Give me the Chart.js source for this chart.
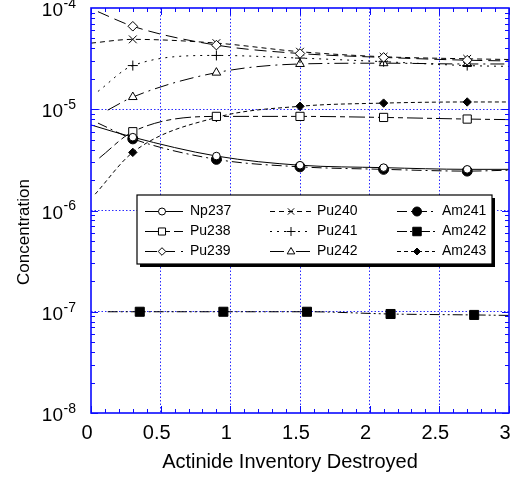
<!DOCTYPE html>
<html><head><meta charset="utf-8">
<script src="https://cdn.jsdelivr.net/npm/chart.js@4"></script>
<style>html,body{margin:0;padding:0;background:#fff}#wrap{width:513px;height:477px}</style>
</head><body><div id="wrap"><canvas id="c" width="513" height="477"></canvas></div>
<script>
// ---------- data ----------
const xTickValues = [0, 0.5, 1, 1.5, 2, 2.5, 3];
const xTickLabels = ['0', '0.5', '1', '1.5', '2', '2.5', '3'];
const yTickValues = [1e-8, 1e-7, 1e-6, 1e-5, 1e-4];
const yTickExponents = ['-8', '-7', '-6', '-5', '-4'];
const xTitle = 'Actinide Inventory Destroyed';
const yTitle = 'Concentration';

const seriesNames = ['Np237', 'Pu238', 'Pu239', 'Pu240', 'Pu241', 'Pu242', 'Am241', 'Am242', 'Am243'];

const np237X = [0, 0.3, 0.9, 1.5, 2.1, 2.7, 3];
const np237Y = [7.0e-6, 5.3e-6, 3.45e-6, 2.8e-6, 2.65e-6, 2.55e-6, 2.55e-6];
const pu238X = [0.06, 0.3, 0.9, 1.5, 2.1, 2.7, 3];
const pu238Y = [3.3e-6, 6.0e-6, 8.5e-6, 8.5e-6, 8.3e-6, 8.0e-6, 7.9e-6];
const pu239X = [0.05, 0.3, 0.9, 1.5, 2.1, 2.7, 3];
const pu239Y = [9.2e-5, 6.6e-5, 4.3e-5, 3.55e-5, 3.25e-5, 3.05e-5, 3.0e-5];
const pu240X = [0, 0.3, 0.9, 1.5, 2.1, 2.7, 3];
const pu240Y = [4.5e-5, 4.9e-5, 4.5e-5, 3.7e-5, 3.3e-5, 3.15e-5, 3.1e-5];
const pu241X = [0.05, 0.3, 0.9, 1.5, 2.1, 2.7, 3];
const pu241Y = [1.5e-5, 2.7e-5, 3.4e-5, 3.2e-5, 2.95e-5, 2.7e-5, 2.65e-5];
const pu242X = [0.12, 0.3, 0.9, 1.5, 2.1, 2.7, 3];
const pu242Y = [9.8e-6, 1.32e-5, 2.3e-5, 2.8e-5, 2.85e-5, 2.8e-5, 2.8e-5];
const am241X = [0.05, 0.3, 0.9, 1.5, 2.1, 2.7, 3];
const am241Y = [7.3e-6, 5.1e-6, 3.2e-6, 2.7e-6, 2.55e-6, 2.45e-6, 2.5e-6];
const am242X = [0.12, 0.35, 0.95, 1.55, 2.15, 2.75, 3];
const am242Y = [1.0e-7, 1.0e-7, 1.0e-7, 1.0e-7, 9.5e-8, 9.3e-8, 9.2e-8];
const am243X = [0.03, 0.3, 0.9, 1.5, 2.1, 2.7, 3];
const am243Y = [1.45e-6, 3.75e-6, 8.3e-6, 1.07e-5, 1.15e-5, 1.18e-5, 1.18e-5];

// ---------- styles ----------
const FONT = "'Liberation Sans', Arial, Helvetica, sans-serif";
const AXIS_BLUE = '#0a0aff';
const styles = {
  Np237: {dash: [], ps: 'circle', r: 3.8, fill: '#fff', lr: 3.5},
  Pu238: {dash: [16, 4, 5, 4], ps: 'rect', r: 5.8, fill: '#fff', lr: 5},
  Pu239: {dash: [12, 6], ps: 'rectRot', r: 4.8, fill: '#fff', lr: 3.8},
  Pu240: {dash: [5, 4], ps: 'crossRot', r: 5.5, fill: '#fff', lr: 4.5},
  Pu241: {dash: [2, 5], ps: 'cross', r: 5, fill: '#fff', lr: 4.5},
  Pu242: {dash: [14, 5, 2, 5], ps: 'triangle', r: 5, fill: '#fff', lr: 4},
  Am241: {dash: [10, 4, 2, 4], ps: 'circle', r: 5, fill: '#000', lr: 4.5},
  Am242: {dash: [10, 3, 2, 3, 2, 3], ps: 'rect', r: 6.4, fill: '#000', lr: 6},
  Am243: {dash: [4, 3], ps: 'rectRot', r: 4.2, fill: '#000', lr: 3.5}
};
const seriesX = [np237X, pu238X, pu239X, pu240X, pu241X, pu242X, am241X, am242X, am243X];
const seriesY = [np237Y, pu238Y, pu239Y, pu240Y, pu241Y, pu242Y, am241Y, am242Y, am243Y];

const datasets = seriesNames.map((name, i) => {
  const s = styles[name];
  const xs = seriesX[i], ys = seriesY[i];
  const n = xs.length;
  return {
    label: name,
    data: xs.map((x, j) => ({x: x, y: ys[j]})),
    borderColor: '#000',
    borderWidth: 1,
    borderDash: s.dash,
    cubicInterpolationMode: 'monotone',
    fill: false,
    pointStyle: s.ps,
    pointRadius: xs.map((x, j) => (j === 0 || j === n - 1) ? 0 : s.r),
    pointBackgroundColor: s.fill,
    pointBorderColor: '#000',
    pointBorderWidth: 1,
    pointHoverRadius: 0
  };
});

// ---------- decoration plugin ----------
function drawMarker(ctx, ps, x, y, r, fill) {
  ctx.save();
  ctx.setLineDash([]);
  ctx.lineWidth = 1;
  ctx.strokeStyle = '#000';
  ctx.fillStyle = fill;
  ctx.beginPath();
  if (ps === 'circle') { ctx.arc(x, y, r, 0, Math.PI * 2); ctx.fill(); ctx.stroke(); }
  else if (ps === 'rect') { const h = r * Math.SQRT1_2; ctx.rect(x - h, y - h, 2 * h, 2 * h); ctx.fill(); ctx.stroke(); }
  else if (ps === 'rectRot') { ctx.moveTo(x, y - r); ctx.lineTo(x + r, y); ctx.lineTo(x, y + r); ctx.lineTo(x - r, y); ctx.closePath(); ctx.fill(); ctx.stroke(); }
  else if (ps === 'triangle') { ctx.moveTo(x, y - r); ctx.lineTo(x + r * 0.95, y + r * 0.6); ctx.lineTo(x - r * 0.95, y + r * 0.6); ctx.closePath(); ctx.fill(); ctx.stroke(); }
  else if (ps === 'cross') { ctx.moveTo(x - r, y); ctx.lineTo(x + r, y); ctx.moveTo(x, y - r); ctx.lineTo(x, y + r); ctx.stroke(); }
  else if (ps === 'crossRot') { const h = r * Math.SQRT1_2; ctx.moveTo(x - h, y - h); ctx.lineTo(x + h, y + h); ctx.moveTo(x + h, y - h); ctx.lineTo(x - h, y + h); ctx.stroke(); }
  ctx.restore();
}

const decor = {
  id: 'decor',
  afterDraw(chart) {
    const {ctx, chartArea: a, scales: {x, y}} = chart;
    ctx.save();
    // inward ticks
    ctx.strokeStyle = AXIS_BLUE;
    ctx.lineWidth = 1;
    ctx.setLineDash([]);
    ctx.beginPath();
    for (let i = 0; i <= 30; i++) {
      const px = Math.round(x.getPixelForValue(i / 10)) + 0.5;
      const len = (i % 5 === 0) ? 7 : 4;
      ctx.moveTo(px, a.bottom); ctx.lineTo(px, a.bottom - len);
      ctx.moveTo(px, a.top); ctx.lineTo(px, a.top + len);
    }
    for (let e = -8; e < -4; e++) {
      for (let k = 1; k < 10; k++) {
        const py = Math.round(y.getPixelForValue(k * Math.pow(10, e))) + 0.5;
        const len = (k === 1) ? 7 : 4;
        ctx.moveTo(a.left, py); ctx.lineTo(a.left + len, py);
        ctx.moveTo(a.right, py); ctx.lineTo(a.right - len, py);
      }
    }
    ctx.stroke();
    ctx.lineWidth = 1.6;
    ctx.strokeRect(a.left, a.top, a.right - a.left, a.bottom - a.top);

    // tick labels
    ctx.fillStyle = '#000';
    ctx.textAlign = 'center';
    ctx.textBaseline = 'middle';
    ctx.font = '20px ' + FONT;
    xTickValues.forEach((v, i) => {
      ctx.fillText(xTickLabels[i], x.getPixelForValue(v) - 4, a.bottom + 20);
    });
    yTickValues.forEach((v, i) => {
      const py = y.getPixelForValue(v);
      ctx.textAlign = 'right';
      ctx.font = '19px ' + FONT;
      ctx.fillText('10', 63, py + 3);
      ctx.textAlign = 'left';
      ctx.font = '14px ' + FONT;
      ctx.fillText(yTickExponents[i], 63.5, py - 4);
    });
    // titles
    ctx.font = '20px ' + FONT;
    ctx.textAlign = 'center';
    ctx.fillText(xTitle, 290, 462);
    ctx.save();
    ctx.translate(24, 232);
    ctx.rotate(-Math.PI / 2);
    ctx.font = '17px ' + FONT;
    ctx.fillText(yTitle, 0, 0);
    ctx.restore();

    // legend
    const L = 137, T = 195, R = 492, B = 264;
    ctx.fillStyle = '#000';
    ctx.fillRect(L + 3, T + 3, R - L, B - T);
    ctx.fillStyle = '#fff';
    ctx.fillRect(L, T, R - L, B - T);
    ctx.strokeStyle = '#000';
    ctx.lineWidth = 1.2;
    ctx.strokeRect(L, T, R - L, B - T);
    const cols = [{x0: 145, x1: 183, m: 162, t: 190}, {x0: 270, x1: 312, m: 291, t: 317}, {x0: 397, x1: 435, m: 417, t: 442}];
    const rows = [211, 231, 251];
    ctx.font = '14px ' + FONT;
    ctx.textAlign = 'left';
    ctx.textBaseline = 'middle';
    seriesNames.forEach((name, i) => {
      const c = cols[Math.floor(i / 3)], ry = rows[i % 3] + 0.5;
      const s = styles[name];
      ctx.strokeStyle = '#000';
      ctx.lineWidth = 1;
      ctx.setLineDash(s.dash);
      ctx.beginPath(); ctx.moveTo(c.x0, ry); ctx.lineTo(c.x1, ry); ctx.stroke();
      ctx.setLineDash([]);
      drawMarker(ctx, s.ps, c.m, ry, s.lr, s.fill);
      ctx.fillStyle = '#000';
      ctx.fillText(name, c.t, ry);
    });
    ctx.restore();
  }
};

new Chart(document.getElementById('c'), {
  type: 'line',
  data: {datasets: datasets},
  options: {
    responsive: false,
    animation: false,
    events: [],
    layout: {padding: {left: 91, right: 4, top: 8, bottom: 64}},
    plugins: {legend: {display: false}, tooltip: {enabled: false}},
    scales: {
      x: {
        type: 'linear', min: 0, max: 3,
        afterBuildTicks: (sc) => { sc.ticks = xTickValues.map(v => ({value: v})); },
        ticks: {display: false},
        grid: {drawTicks: false, lineWidth: 1, color: (c) => (c.tick && (c.tick.value === 0 || c.tick.value === 3)) ? 'rgba(0,0,0,0)' : '#2a2aff'},
        border: {display: false, dash: [1.5, 2]}
      },
      y: {
        type: 'logarithmic', min: 1e-8, max: 1e-4,
        afterBuildTicks: (sc) => { sc.ticks = yTickValues.map(v => ({value: v})); },
        ticks: {display: false},
        grid: {drawTicks: false, lineWidth: 1, color: (c) => (c.tick && (c.tick.value <= 1e-8 || c.tick.value >= 1e-4)) ? 'rgba(0,0,0,0)' : '#2a2aff'},
        border: {display: false, dash: [1.5, 2]}
      }
    }
  },
  plugins: [decor]
});
</script>
</body></html>
